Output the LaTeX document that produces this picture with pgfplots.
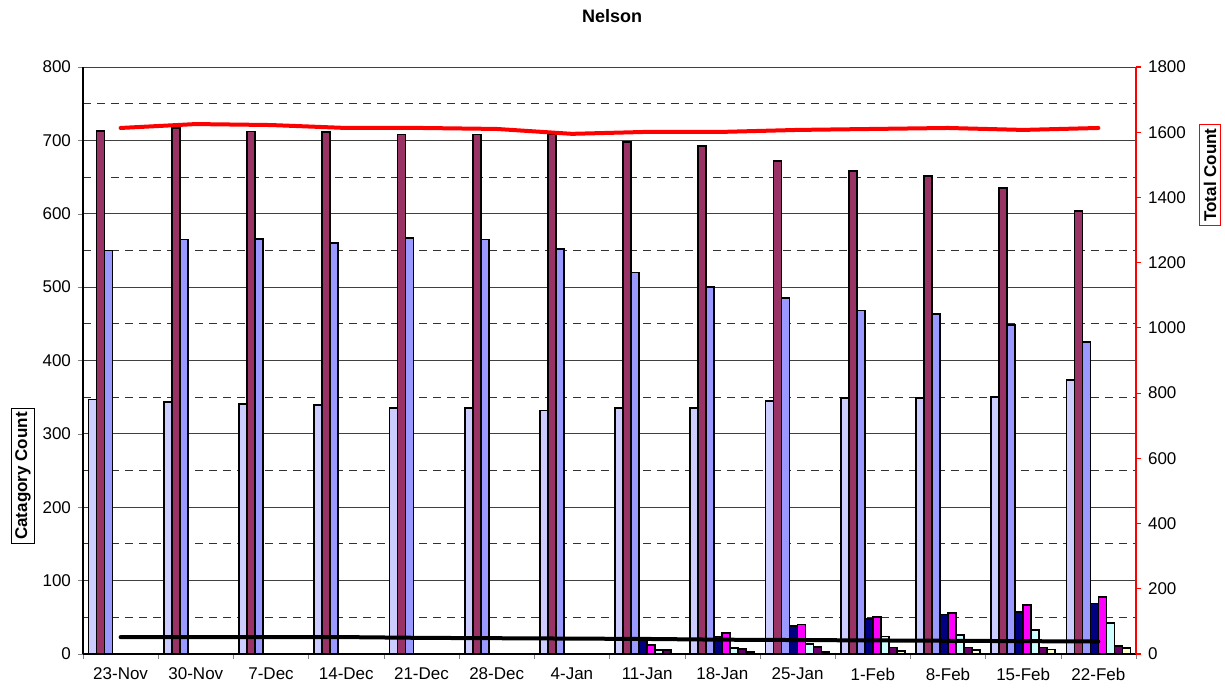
\documentclass[border=0pt]{standalone}
\usepackage{pgfplots}
\pgfplotsset{compat=1.18}
\usepackage{fontspec}
\setmainfont{Liberation Sans}
\definecolor{cLav}{HTML}{CCCCFF}
\definecolor{cMar}{HTML}{993366}
\definecolor{cPer}{HTML}{9999FF}
\definecolor{cNav}{HTML}{000080}
\definecolor{cMag}{HTML}{FF00FF}
\definecolor{cCya}{HTML}{CCFFFF}
\definecolor{cPur}{HTML}{660066}
\definecolor{cYel}{HTML}{FFFFCC}
\definecolor{cRed}{HTML}{FF0000}
\begin{document}
\begin{tikzpicture}
\useasboundingbox (0,0) rectangle (612.5pt,345pt);
\pgfplotsset{
  every axis/.append style={
    scale only axis, width=526.5pt, height=293.5pt,
    at={(41.5pt,18pt)}, anchor=south west,
    xmin=-0.5, xmax=13.5,
    tick label style={font=\fontsize{8.5}{10}\selectfont},
    /pgf/number format/assume math mode=true,
    /pgf/number format/1000 sep={},
    tick align=outside,
    major tick length=2.5pt,
  }
}
\begin{axis}[
  ymin=0, ymax=800,
  axis x line*=bottom, axis y line*=left,
  axis line style={black, line width=0.6pt},
  ytick={0,100,...,800},
  minor ytick={50,150,...,750},
  minor tick length=0pt,
  ymajorgrids, yminorgrids,
  major grid style={black!75, line width=0.5pt},
  minor grid style={black!80, dashed, dash pattern=on 4pt off 3pt, line width=0.5pt},
  xtick={-0.5,0.5,...,13.5},
  xticklabels={},
  extra x ticks={0,1,...,13},
  extra x tick labels={23-Nov,30-Nov,7-Dec,14-Dec,21-Dec,28-Dec,4-Jan,11-Jan,18-Jan,25-Jan,1-Feb,8-Feb,15-Feb,22-Feb},
  extra x tick style={major tick length=0pt, grid=none, xticklabel style={yshift=-3.5pt}},
  ybar=0pt, bar width=4pt,
  every axis plot/.append style={draw=black, line width=0.85pt},
  clip=false,
]
\addplot[fill=cLav] coordinates {(0,347) (1,343) (2,341) (3,339) (4,335) (5,335) (6,332) (7,335) (8,335) (9,345) (10,349) (11,349) (12,350) (13,373)};
\addplot[fill=cMar] coordinates {(0,713) (1,717) (2,712) (3,711) (4,708) (5,708) (6,709) (7,698) (8,692) (9,672) (10,658) (11,651) (12,635) (13,604)};
\addplot[fill=cPer] coordinates {(0,550) (1,565) (2,566) (3,560) (4,567) (5,565) (6,552) (7,520) (8,500) (9,485) (10,468) (11,463) (12,448) (13,425)};
\addplot[fill=cNav] coordinates {(7,20) (8,24) (9,38) (10,48) (11,54) (12,57) (13,69)};
\addplot[fill=cMag] coordinates {(7,12) (8,29) (9,40) (10,50) (11,56) (12,67) (13,78)};
\addplot[fill=cCya] coordinates {(7,5) (8,8) (9,14) (10,24) (11,26) (12,33) (13,42)};
\addplot[fill=cPur] coordinates {(7,5) (8,7) (9,10) (10,9) (11,9) (12,9) (13,11)};
\addplot[fill=cYel] coordinates {(8,3) (9,3) (10,4) (11,5) (12,6) (13,8)};
\addplot[sharp plot, draw=black, line width=2pt, mark=none, line cap=round] coordinates {(0,23) (1,23) (2,23) (3,23) (4,22) (5,21.5) (6,21) (7,20.5) (8,19.5) (9,19) (10,18.5) (11,18) (12,17.5) (13,17)};
\end{axis}
\begin{axis}[
  ymin=0, ymax=1800,
  axis y line*=right, axis x line=none,
  axis line style={cRed, line width=0.8pt},
  ytick={0,200,...,1800},
  ytick style={cRed, line width=0.6pt},
  yticklabel style={black},
]
\addplot[draw=cRed, line width=2pt, mark=none, line cap=round] coordinates {(0,1613) (1,1625) (2,1622) (3,1613) (4,1613) (5,1610) (6,1595) (7,1601) (8,1601) (9,1607) (10,1610) (11,1613) (12,1607) (13,1613)};
\end{axis}
\node[font=\bfseries\fontsize{9}{11}\selectfont] at (306pt,337pt) {Nelson};
\node[draw=black, line width=0.5pt, rotate=90, inner sep=2pt, font=\bfseries\fontsize{8.5}{10}\selectfont] at (11.5pt,107pt) {Catagory Count};
\node[draw=cRed, line width=0.5pt, rotate=90, inner sep=2pt, font=\bfseries\fontsize{8.5}{10}\selectfont] at (605pt,257.5pt) {Total Count};
\end{tikzpicture}
\end{document}
